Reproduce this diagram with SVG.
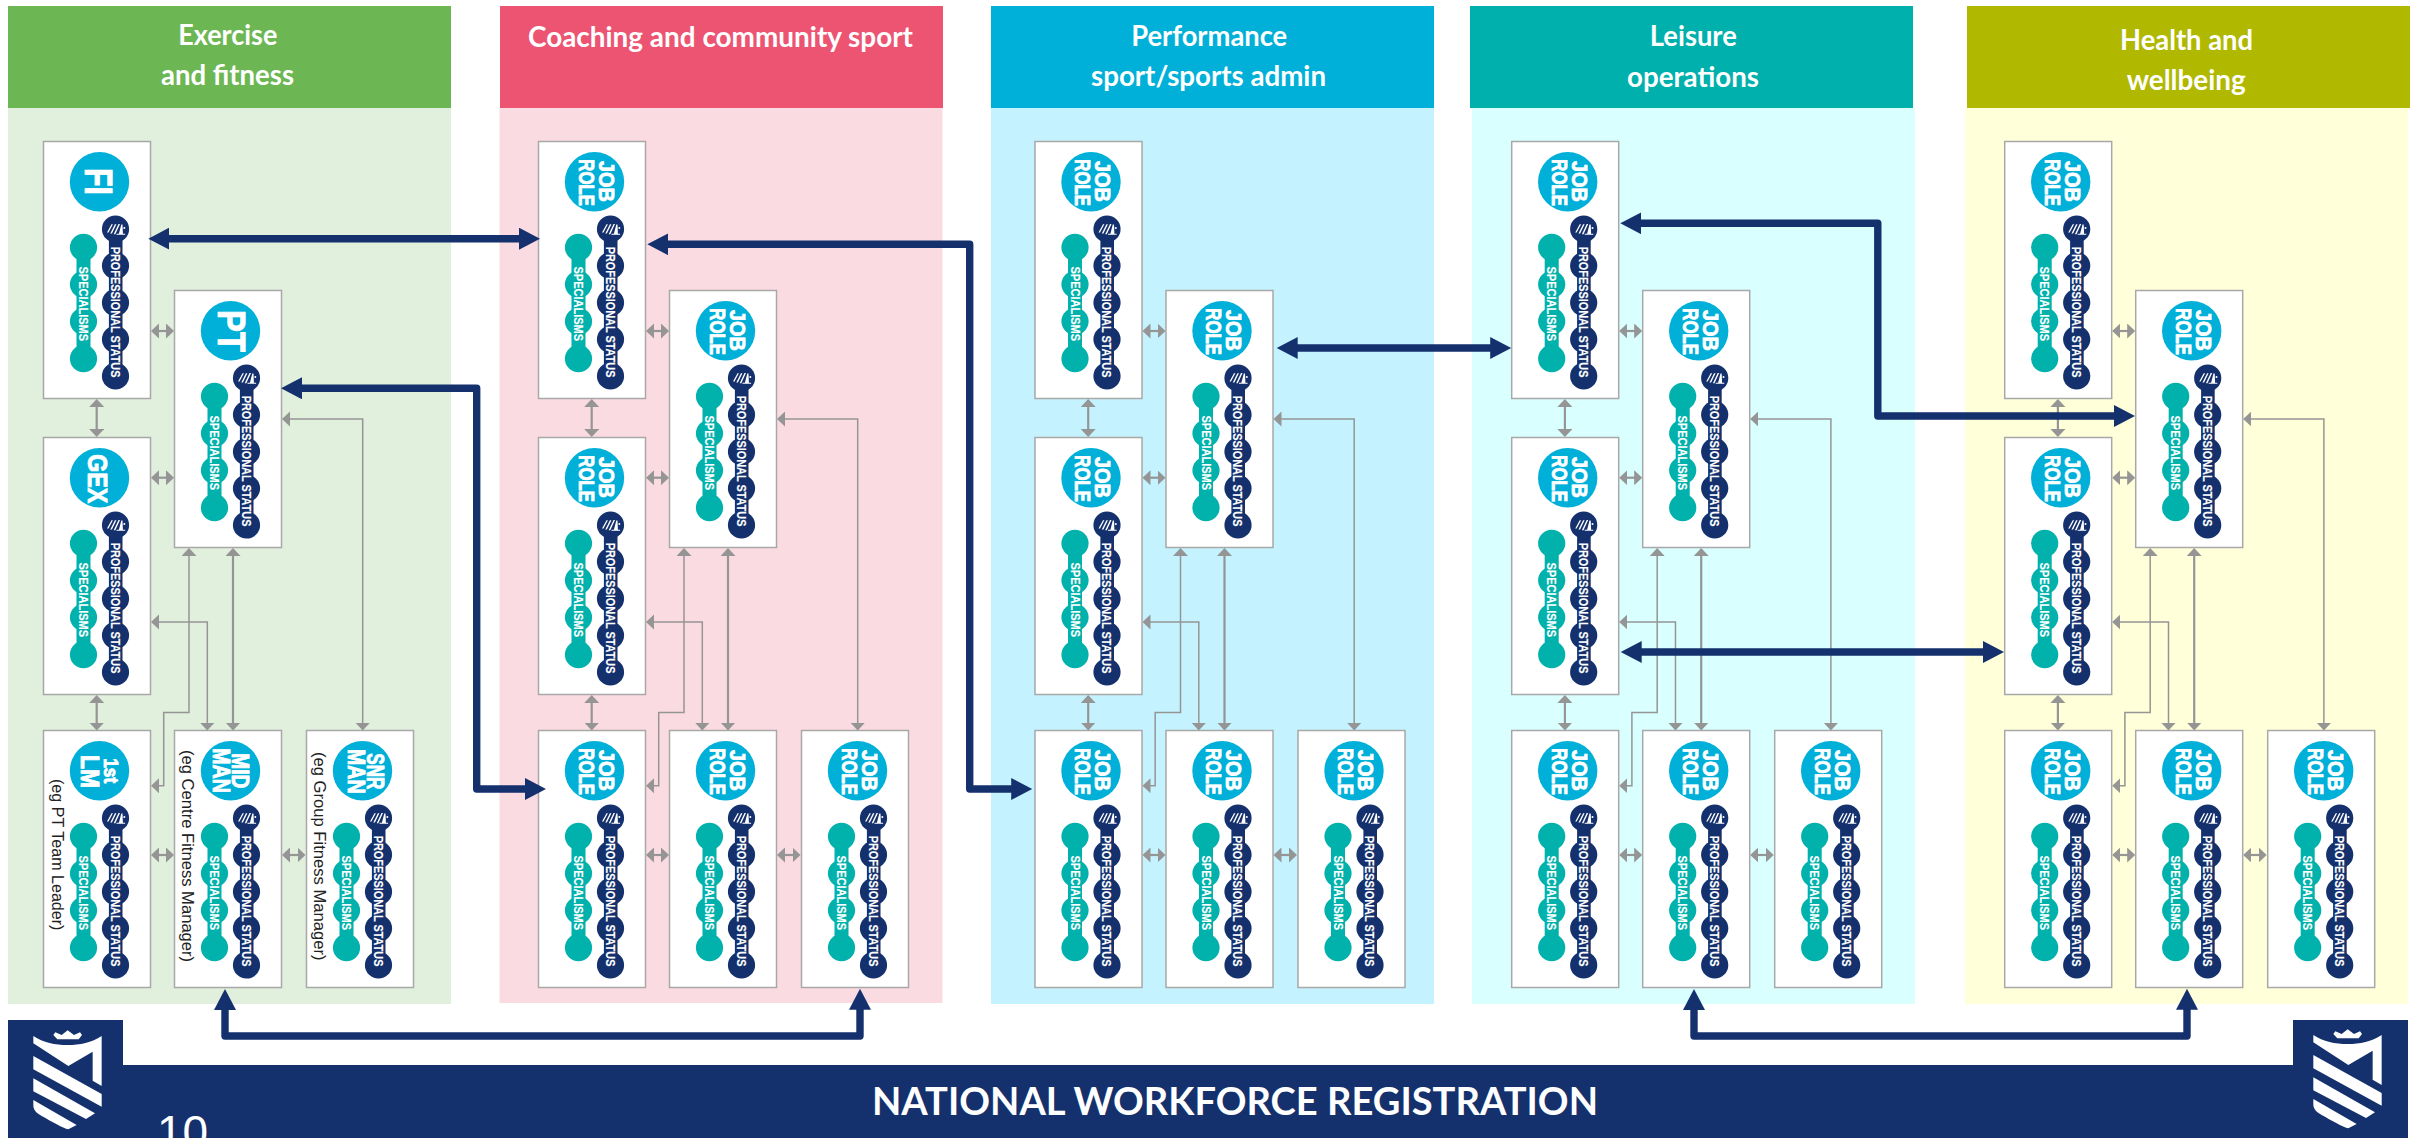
<svg xmlns="http://www.w3.org/2000/svg" xmlns:xlink="http://www.w3.org/1999/xlink" width="2428" height="1138" viewBox="0 0 2428 1138">
<style>
text{font-family:"Liberation Sans",Arial,sans-serif;fill:#fff}
.h{font-family:Lato,"Liberation Sans",sans-serif;font-size:28px;font-weight:700}
.ft{font-family:Lato,"Liberation Sans",sans-serif;font-size:38px;font-weight:700}
.ps,.sp{font-size:12.5px;font-weight:700;stroke:#fff;stroke-width:.15}
.ps{transform:translate(67px,105.2px) rotate(90deg) scale(.872,1)}
.sp{transform:translate(35.5px,125px) rotate(90deg) scale(.882,1)}
.c{font-weight:700;stroke:#fff;stroke-width:.9}
.jb,.rl{font-size:21.5px;font-weight:700;stroke:#fff;stroke-width:.8}
.jb{transform:translate(60px,19.5px) rotate(90deg) scale(.928,1)}
.rl{transform:translate(40.2px,17.8px) rotate(90deg) scale(.782,1)}
.eg{font-size:16.6px;fill:#222}
.g1,.g2{fill:none;stroke:#959595;marker-start:url(#ga);marker-end:url(#ga)}
.g1{stroke-width:2.2}
.g2{stroke-width:1.5}
.nv{fill:none;stroke:#14316d;stroke-width:7.4;stroke-linejoin:round;marker-start:url(#na);marker-end:url(#na)}
</style>
<defs>
<marker id="ga" markerUnits="userSpaceOnUse" markerWidth="9" markerHeight="16" refX="1" refY="7.5" orient="auto-start-reverse"><path d="M0 0L8 7.5L0 15z" fill="#959595"/></marker>
<marker id="na" markerUnits="userSpaceOnUse" markerWidth="22" markerHeight="23" refX="4" refY="11" orient="auto-start-reverse"><path d="M0 0L21 11L0 22z" fill="#14316d"/></marker>
<g id="icon" fill="#fff">
<path d="M-8.5 3.6L-4 -4.8L-2.6 -4.8L-7 3.6zM-5.2 4.6L-.6 -4.8L.9 -4.8L-3.6 4.6zM-1.8 5.2L3 -5L4.5 -5L-.2 5.2z"/>
<path d="M1 4.8H9.6V5.8H1zM3.4 4.8L5.8 -4.6L7 -4.6L7.4 4.8z"/><circle cx="8.8" cy="-1" r="1"/>
</g>
<g id="card">
<rect x="0" y="0" width="107" height="257" fill="#fff" stroke="#a8a8a8" stroke-width="1.5"/>
<circle cx="56" cy="40.3" r="29.7" fill="#00b0d8"/>
<g fill="#14316d"><rect x="65.4" y="87.5" width="13.6" height="147"/><circle cx="72" cy="87.5" r="13.6"/><circle cx="72" cy="124.2" r="13.6"/><circle cx="72" cy="161.2" r="13.6"/><circle cx="72" cy="197.8" r="13.6"/><circle cx="72" cy="234.5" r="13.6"/></g>
<g fill="#00b1ac"><rect x="33" y="105.8" width="14" height="111.4"/><circle cx="40" cy="105.8" r="13.6"/><circle cx="40" cy="142.8" r="13.6"/><circle cx="40" cy="179.8" r="13.6"/><circle cx="40" cy="217.2" r="13.6"/></g>
<use href="#icon" x="72" y="87.5"/>
</g>
<g id="grey">
<path class="g1" d="M158 331H167"/>
<path class="g1" d="M158 477.7H167"/>
<path class="g1" d="M96.7 406V430"/>
<path class="g1" d="M96.7 702V723.5"/>
<path class="g1" d="M158 855H167"/>
<path class="g1" d="M289 855H298.5"/>
<path class="g2" d="M189 555V712.5H163.7V785.7H158"/>
<path class="g2" d="M158 622H207.3V723.5"/>
<path class="g1" d="M233 555V723.5"/>
<path class="g2" d="M289 419H362.7V723.5"/>
</g>
<g id="logo" transform="translate(0 720) scale(.3333)" fill="#fff">
<path d="M160 945L166 937L185 945L203 931L222 945L240 937L246 945L236 958H172z"/>
<path d="M100 948C130 968 165 975 203 975C240 975 275 968 305 948V1098L278 1082V995L205 1038L100 970z"/>
<path d="M100 1008L305 1122V1160L100 1048z"/>
<path d="M100 1075L285 1180L258 1197L100 1114z"/>
<path d="M100 1140L230 1215L205 1228C190 1225 150 1202 125 1188C105 1176 100 1168 100 1155z"/>
</g>
</defs>

<g id="panel-exercise">
<rect x="8" y="108" width="443" height="896" fill="#e1efdd"/>
<rect x="8" y="6" width="443" height="102" fill="#6cb753"/>
<text class="h" x="178.3" y="45" textLength="99" lengthAdjust="spacingAndGlyphs">Exercise</text>
<text class="h" x="161" y="85" textLength="133" lengthAdjust="spacingAndGlyphs">and fitness</text>
</g>
<g id="panel-coaching">
<rect x="499.5" y="108" width="443" height="895" fill="#fbdbe2"/>
<rect x="500" y="6" width="443" height="102" fill="#ec5472"/>
<text class="h" x="528" y="47" textLength="385" lengthAdjust="spacingAndGlyphs">Coaching and community sport</text>
</g>
<g id="panel-performance">
<rect x="991" y="108" width="443" height="896" fill="#c4f3ff"/>
<rect x="991" y="6" width="443" height="102" fill="#00b0d8"/>
<text class="h" x="1131.2" y="45.5" textLength="156" lengthAdjust="spacingAndGlyphs">Performance</text>
<text class="h" x="1091" y="85.5" textLength="235" lengthAdjust="spacingAndGlyphs">sport/sports admin</text>
</g>
<g id="panel-leisure">
<rect x="1472" y="108" width="443" height="896" fill="#d9ffff"/>
<rect x="1470" y="6" width="443" height="102" fill="#00b0ac"/>
<text class="h" x="1649.8" y="45.5" textLength="87" lengthAdjust="spacingAndGlyphs">Leisure</text>
<text class="h" x="1627" y="86.5" textLength="132" lengthAdjust="spacingAndGlyphs">operations</text>
</g>
<g id="panel-health">
<rect x="1965" y="108" width="443" height="896" fill="#ffffd9"/>
<rect x="1967" y="6" width="443" height="102" fill="#b0b800"/>
<text class="h" x="2120" y="49.5" textLength="133" lengthAdjust="spacingAndGlyphs">Health and</text>
<text class="h" x="2126.7" y="89.5" textLength="119" lengthAdjust="spacingAndGlyphs">wellbeing</text>
</g>

<g id="footer">
<path d="M8 1138V1020H123V1065H2293V1020H2408V1138z" fill="#14316d"/>
<use href="#logo"/>
<use href="#logo" x="2280" y="-1"/>
<text class="ft" x="872" y="1115" textLength="726" lengthAdjust="spacingAndGlyphs">NATIONAL WORKFORCE REGISTRATION</text>
<text x="157" y="1148" font-size="46">10</text>
</g>

<g id="node-fi" transform="translate(43.5 141.5)"><use href="#card"/><text class="c" font-size="38" transform="translate(41.5 26.5) rotate(90) scale(.8 1)">FI</text><text class="ps">PROFESSIONAL STATUS</text><text class="sp">SPECIALISMS</text></g>
<g id="node-pt" transform="translate(174.5 290.5)"><use href="#card"/><text class="c" font-size="38" transform="translate(43.2 19.5) rotate(90) scale(.865 1)">PT</text><text class="ps">PROFESSIONAL STATUS</text><text class="sp">SPECIALISMS</text></g>
<g id="node-gex" transform="translate(43.5 437.5)"><use href="#card"/><text class="c" font-size="28" transform="translate(44.8 16.8) rotate(90) scale(.83 1)">GEX</text><text class="ps">PROFESSIONAL STATUS</text><text class="sp">SPECIALISMS</text></g>
<g id="node-1stlm" transform="translate(43.5 730.5)"><use href="#card"/><text class="c" font-size="21" transform="translate(60.8 27.8) rotate(90) scale(.82 1)">1st</text><text class="c" font-size="26" transform="translate(37.5 24.5) rotate(90) scale(.88 1)">LM</text><text class="ps">PROFESSIONAL STATUS</text><text class="sp">SPECIALISMS</text><text class="eg" transform="translate(8.2 48.5) rotate(90) scale(.97 1)">(eg PT Team Leader)</text></g>
<g id="node-midman" transform="translate(174.5 730.5)"><use href="#card"/><text class="c" font-size="23" transform="translate(57.2 22.8) rotate(90) scale(.83 1)">MID</text><text class="c" font-size="23" transform="translate(38.8 17.8) rotate(90) scale(.85 1)">MAN</text><text class="ps">PROFESSIONAL STATUS</text><text class="sp">SPECIALISMS</text><text class="eg" transform="translate(7.8 19.5) rotate(90)">(eg Centre Fitness Manager)</text></g>
<g id="node-snrman" transform="translate(306.5 730.5)"><use href="#card"/><text class="c" font-size="23" transform="translate(60.2 22.8) rotate(90) scale(.74 1)">SNR</text><text class="c" font-size="23" transform="translate(41.8 18.5) rotate(90) scale(.85 1)">MAN</text><text class="ps">PROFESSIONAL STATUS</text><text class="sp">SPECIALISMS</text><text class="eg" transform="translate(7.8 21.5) rotate(90)">(eg Group Fitness Manager)</text></g>

<g id="node-c1" transform="translate(538.5 141.5)"><use href="#card"/><text class="jb">JOB</text><text class="rl">ROLE</text><text class="ps">PROFESSIONAL STATUS</text><text class="sp">SPECIALISMS</text></g>
<g id="node-c2" transform="translate(669.5 290.5)"><use href="#card"/><text class="jb">JOB</text><text class="rl">ROLE</text><text class="ps">PROFESSIONAL STATUS</text><text class="sp">SPECIALISMS</text></g>
<g id="node-c3" transform="translate(538.5 437.5)"><use href="#card"/><text class="jb">JOB</text><text class="rl">ROLE</text><text class="ps">PROFESSIONAL STATUS</text><text class="sp">SPECIALISMS</text></g>
<g id="node-c4" transform="translate(538.5 730.5)"><use href="#card"/><text class="jb">JOB</text><text class="rl">ROLE</text><text class="ps">PROFESSIONAL STATUS</text><text class="sp">SPECIALISMS</text></g>
<g id="node-c5" transform="translate(669.5 730.5)"><use href="#card"/><text class="jb">JOB</text><text class="rl">ROLE</text><text class="ps">PROFESSIONAL STATUS</text><text class="sp">SPECIALISMS</text></g>
<g id="node-c6" transform="translate(801.5 730.5)"><use href="#card"/><text class="jb">JOB</text><text class="rl">ROLE</text><text class="ps">PROFESSIONAL STATUS</text><text class="sp">SPECIALISMS</text></g>

<g id="node-p1" transform="translate(1035 141.5)"><use href="#card"/><text class="jb">JOB</text><text class="rl">ROLE</text><text class="ps">PROFESSIONAL STATUS</text><text class="sp">SPECIALISMS</text></g>
<g id="node-p2" transform="translate(1166 290.5)"><use href="#card"/><text class="jb">JOB</text><text class="rl">ROLE</text><text class="ps">PROFESSIONAL STATUS</text><text class="sp">SPECIALISMS</text></g>
<g id="node-p3" transform="translate(1035 437.5)"><use href="#card"/><text class="jb">JOB</text><text class="rl">ROLE</text><text class="ps">PROFESSIONAL STATUS</text><text class="sp">SPECIALISMS</text></g>
<g id="node-p4" transform="translate(1035 730.5)"><use href="#card"/><text class="jb">JOB</text><text class="rl">ROLE</text><text class="ps">PROFESSIONAL STATUS</text><text class="sp">SPECIALISMS</text></g>
<g id="node-p5" transform="translate(1166 730.5)"><use href="#card"/><text class="jb">JOB</text><text class="rl">ROLE</text><text class="ps">PROFESSIONAL STATUS</text><text class="sp">SPECIALISMS</text></g>
<g id="node-p6" transform="translate(1298 730.5)"><use href="#card"/><text class="jb">JOB</text><text class="rl">ROLE</text><text class="ps">PROFESSIONAL STATUS</text><text class="sp">SPECIALISMS</text></g>

<g id="node-l1" transform="translate(1511.7 141.5)"><use href="#card"/><text class="jb">JOB</text><text class="rl">ROLE</text><text class="ps">PROFESSIONAL STATUS</text><text class="sp">SPECIALISMS</text></g>
<g id="node-l2" transform="translate(1642.7 290.5)"><use href="#card"/><text class="jb">JOB</text><text class="rl">ROLE</text><text class="ps">PROFESSIONAL STATUS</text><text class="sp">SPECIALISMS</text></g>
<g id="node-l3" transform="translate(1511.7 437.5)"><use href="#card"/><text class="jb">JOB</text><text class="rl">ROLE</text><text class="ps">PROFESSIONAL STATUS</text><text class="sp">SPECIALISMS</text></g>
<g id="node-l4" transform="translate(1511.7 730.5)"><use href="#card"/><text class="jb">JOB</text><text class="rl">ROLE</text><text class="ps">PROFESSIONAL STATUS</text><text class="sp">SPECIALISMS</text></g>
<g id="node-l5" transform="translate(1642.7 730.5)"><use href="#card"/><text class="jb">JOB</text><text class="rl">ROLE</text><text class="ps">PROFESSIONAL STATUS</text><text class="sp">SPECIALISMS</text></g>
<g id="node-l6" transform="translate(1774.7 730.5)"><use href="#card"/><text class="jb">JOB</text><text class="rl">ROLE</text><text class="ps">PROFESSIONAL STATUS</text><text class="sp">SPECIALISMS</text></g>

<g id="node-w1" transform="translate(2004.7 141.5)"><use href="#card"/><text class="jb">JOB</text><text class="rl">ROLE</text><text class="ps">PROFESSIONAL STATUS</text><text class="sp">SPECIALISMS</text></g>
<g id="node-w2" transform="translate(2135.7 290.5)"><use href="#card"/><text class="jb">JOB</text><text class="rl">ROLE</text><text class="ps">PROFESSIONAL STATUS</text><text class="sp">SPECIALISMS</text></g>
<g id="node-w3" transform="translate(2004.7 437.5)"><use href="#card"/><text class="jb">JOB</text><text class="rl">ROLE</text><text class="ps">PROFESSIONAL STATUS</text><text class="sp">SPECIALISMS</text></g>
<g id="node-w4" transform="translate(2004.7 730.5)"><use href="#card"/><text class="jb">JOB</text><text class="rl">ROLE</text><text class="ps">PROFESSIONAL STATUS</text><text class="sp">SPECIALISMS</text></g>
<g id="node-w5" transform="translate(2135.7 730.5)"><use href="#card"/><text class="jb">JOB</text><text class="rl">ROLE</text><text class="ps">PROFESSIONAL STATUS</text><text class="sp">SPECIALISMS</text></g>
<g id="node-w6" transform="translate(2267.7 730.5)"><use href="#card"/><text class="jb">JOB</text><text class="rl">ROLE</text><text class="ps">PROFESSIONAL STATUS</text><text class="sp">SPECIALISMS</text></g>

<g id="connectors">
<use href="#grey"/>
<use href="#grey" x="495"/>
<use href="#grey" x="991.5"/>
<use href="#grey" x="1468.2"/>
<use href="#grey" x="1961.2"/>
<path class="nv" d="M165.3 238.7H523"/>
<path class="nv" d="M298 388.3H476.7V789H529"/>
<path class="nv" d="M664.3 244.3H969.7V789H1015.2"/>
<path class="nv" d="M1293.7 348H1494.2"/>
<path class="nv" d="M1637.3 223.3H1877.8V416H2118"/>
<path class="nv" d="M1637.7 652H1987"/>
<path class="nv" d="M225 1006V1036H860V1005.7"/>
<path class="nv" d="M1694 1006V1036H2187V1005.7"/>
</g>
</svg>
